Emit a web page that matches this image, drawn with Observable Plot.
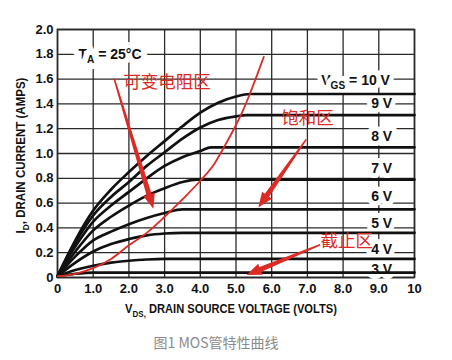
<!DOCTYPE html>
<html><head><meta charset="utf-8">
<script src="https://cdn.jsdelivr.net/npm/d3@7"></script>
<script src="https://cdn.jsdelivr.net/npm/@observablehq/plot@0.6"></script>
<style>
body{margin:0;background:#fff;width:452px;height:360px;overflow:hidden}
#caption{font-family:"Noto Sans CJK SC",sans-serif;font-size:14px;color:#8a8a8a;width:432px;text-align:center;line-height:34px;height:35px}
</style></head><body><div id="chart"></div><div id="caption">图1 MOS管特性曲线</div>
<script>
// ---- data ----
const xTickValues = [0,1,2,3,4,5,6,7,8,9,10];
const yTickValues = [0,0.2,0.4,0.6,0.8,1.0,1.2,1.4,1.6,1.8,2.0];
const vgsLabels = ["V_{GS} = 10 V","9 V","8 V","7 V","6 V","5 V","4 V","3 V"];
const vgsLabelX = [8.35,9.08,9.08,9.08,9.08,9.08,9.08,9.08];
const vgsLabelY = [1.59,1.40,1.137,0.877,0.653,0.438,0.226,0.062];
const curve10V = [[0,0.01],[0.25,0.16],[0.5,0.3],[1,0.54],[1.5,0.71],[2,0.85],[2.5,0.98],[3,1.1],[3.5,1.22],[4,1.33],[4.5,1.41],[5,1.46],[5.4,1.48],[10,1.48]];
const curve9V = [[0,0.01],[0.25,0.15],[0.5,0.28],[1,0.5],[1.5,0.65],[2,0.77],[2.5,0.9],[3,1.01],[3.5,1.12],[4,1.21],[4.5,1.27],[5,1.3],[5.3,1.31],[10,1.31]];
const curve8V = [[0,0.01],[0.25,0.14],[0.5,0.25],[1,0.45],[1.5,0.58],[2,0.69],[2.5,0.8],[3,0.9],[3.5,0.97],[4,1.02],[4.3,1.05],[10,1.05]];
const curve7V = [[0,0.01],[0.5,0.21],[1,0.38],[1.5,0.49],[2,0.58],[2.5,0.66],[3,0.72],[3.5,0.77],[3.9,0.79],[10,0.79]];
const curve6V = [[0,0.01],[0.5,0.17],[1,0.3],[1.5,0.37],[2,0.43],[2.5,0.48],[3,0.52],[3.5,0.55],[10,0.55]];
const curve5V = [[0,0.01],[0.5,0.12],[1,0.21],[1.5,0.27],[2,0.31],[2.5,0.34],[3,0.355],[3.5,0.36],[10,0.36]];
const curve4V = [[0,0.01],[0.5,0.06],[1,0.095],[1.5,0.12],[2,0.135],[2.5,0.145],[3,0.15],[10,0.15]];
const curve3V = [[0,0.01],[0.5,0.03],[1,0.04],[10,0.04]];
const boundaryCurve = [[0,0.01],[0.5,0.03],[1,0.075],[1.5,0.15],[2,0.26],[2.5,0.36],[3,0.49],[3.5,0.63],[4,0.78],[4.4,0.92],[4.7,1.07],[5,1.23],[5.2,1.35],[5.4,1.49],[5.6,1.64],[5.78,1.78]];
const regionLabels = ["可变电阻区","饱和区","截止区"];
const regionLabelX = [3.07,7.0,8.1];
const regionLabelY = [1.575,1.28,0.29];
const arrowTailX = [1.6,6.98,7.37];
const arrowTailY = [1.6,1.11,0.26];
const arrowTipX = [2.7,5.64,5.31];
const arrowTipY = [0.55,0.56,0.016];
const tempLabel = "T_{A} = 25°C";
const tempLabelX = 1.47, tempLabelY = 1.8;
const xTitle = "V_{DS,} DRAIN SOURCE VOLTAGE (VOLTS)";
const yTitle = "I_{D}, DRAIN CURRENT (AMPS)";

// ---- build ----
const curves = [curve10V,curve9V,curve8V,curve7V,curve6V,curve5V,curve4V,curve3V];
const curveRows = curves.flatMap((c,i)=>c.map(([x,y])=>({x,y,k:i})));
const labelRows = vgsLabels.map((t,i)=>({t,x:vgsLabelX[i],y:vgsLabelY[i]}));
const regionRows = regionLabels.map((t,i)=>({t,x:regionLabelX[i],y:regionLabelY[i]}));
const redColor = "#dc2a24";
const gridColor = "#2a2a2a";
const font = "'Liberation Sans', Arial, sans-serif";

function redArrows(index, scales) {
  const g = d3.create("svg:g").attr("fill", redColor);
  arrowTailX.forEach((_, i) => {
    const x0 = scales.x(arrowTailX[i]), y0 = scales.y(arrowTailY[i]);
    const x1 = scales.x(arrowTipX[i]), y1 = scales.y(arrowTipY[i]);
    const dx = x1-x0, dy = y1-y0, L = Math.hypot(dx,dy);
    const ux = dx/L, uy = dy/L, nx = -uy, ny = ux;
    const hl = 15, hw = 6, w0 = 0.8, w1 = 2.6;
    const bx = x1-ux*hl, by = y1-uy*hl;
    const pts = [[x0+nx*w0,y0+ny*w0],[bx+nx*w1,by+ny*w1],[bx+nx*hw,by+ny*hw],[x1,y1],
                 [bx-nx*hw,by-ny*hw],[bx-nx*w1,by-ny*w1],[x0-nx*w0,y0-ny*w0]];
    g.append("path").attr("d","M"+pts.map(p=>p.join(",")).join("L")+"Z");
  });
  return g.node();
}

const plot = Plot.plot({
  width: 452, height: 325,
  marginLeft: 57, marginRight: 38, marginTop: 29, marginBottom: 48,
  style: {fontFamily: font, fontSize: "13px", fontWeight: "bold", background: "white", color: "#111"},
  x: {domain: [0,10], ticks: 10, tickSize: 0, tickPadding: 6, label: null,
      tickFormat: d => d === 0 ? "0" : d === 10 ? "10" : d.toFixed(1)},
  y: {domain: [0,2], ticks: 10, tickSize: 0, tickPadding: 4, label: null,
      tickFormat: d => d === 0 ? "0" : d.toFixed(1)},
  marks: [
    Plot.ruleX(xTickValues, {stroke: gridColor, strokeWidth: 1.3}),
    Plot.ruleY(yTickValues, {stroke: gridColor, strokeWidth: 1.3}),
    Plot.frame({stroke: gridColor, strokeWidth: 1.6}),
    Plot.text(labelRows, {x: "x", y: "y", text: "t", fontSize: 14, fill: "#111",
      stroke: "white", strokeWidth: 10, paintOrder: "stroke", strokeLinejoin: "round"}),
    Plot.text([tempLabel], {x: () => tempLabelX, y: () => tempLabelY, text: d => d, fontSize: 14, fill: "#111",
      stroke: "white", strokeWidth: 12, paintOrder: "stroke", strokeLinejoin: "round"}),
    Plot.line(curveRows, {x: "x", y: "y", z: "k", stroke: "#111", strokeWidth: 2.7, curve: "monotone-x"}),
    Plot.line(boundaryCurve, {x: d => d[0], y: d => d[1], stroke: redColor, strokeWidth: 1.8, curve: "monotone-x"}),
    redArrows,
    Plot.text(regionRows, {x: "x", y: "y", text: "t", fontSize: 17.5, fill: redColor, fontWeight: "normal",
      fontFamily: "'Noto Sans CJK SC', sans-serif"}),
    Plot.text([yTitle], {frameAnchor: "left", textAnchor: "middle", dx: -37, dy: 2, rotate: -90, text: d => d, fontSize: 13, fill: "#111"}),
    Plot.text([xTitle], {frameAnchor: "bottom", textAnchor: "middle", dx: -5, dy: 35, text: d => d, fontSize: 13, fill: "#111"})
  ]
});
document.getElementById("chart").appendChild(plot);

// subscripts: "_{...}" -> lowered smaller tspan; then condense axis titles
try {
  const svg = plot;
  const ns = "http://www.w3.org/2000/svg";
  svg.querySelectorAll("text, tspan").forEach(el => {
    if (el.children.length) return;
    const s = el.textContent;
    if (!s.includes("_{")) return;
    const fs = parseFloat(getComputedStyle(el).fontSize) || 13;
    const shift = fs * 0.32;
    const parts = s.split(/_\{([^}]*)\}/);
    el.textContent = "";
    let shifted = false;
    parts.forEach((p, i) => {
      if (!p) return;
      const t = document.createElementNS(ns, "tspan");
      t.textContent = p;
      if (i % 2) { t.setAttribute("font-size", (fs*0.72)+"px"); t.setAttribute("dy", shift); shifted = true; }
      else if (shifted) { t.setAttribute("dy", -shift); shifted = false; }
      el.appendChild(t);
    });
  });
  svg.querySelectorAll("text").forEach(el => {
    const s = el.textContent;
    let target = 0;
    if (s.includes("DRAIN CURRENT")) target = 156;
    else if (s.includes("DRAIN SOURCE")) target = 212;
    if (!target) return;
    let w = 0;
    try { w = el.getComputedTextLength(); } catch (e) {}
    if (!w) { try { w = el.getBBox().width; } catch (e) {} }
    if (!w) return;
    const k = target / w;
    const tr = el.getAttribute("transform");
    if (tr) {
      el.setAttribute("transform", tr + " scale(" + k.toFixed(3) + ",1)");
    } else {
      const ax = parseFloat(el.getAttribute("x")) || 0;
      el.setAttribute("transform", "translate(" + (ax*(1-k)).toFixed(2) + ",0) scale(" + k.toFixed(3) + ",1)");
    }
  });
} catch (e) {}
</script></body></html>
